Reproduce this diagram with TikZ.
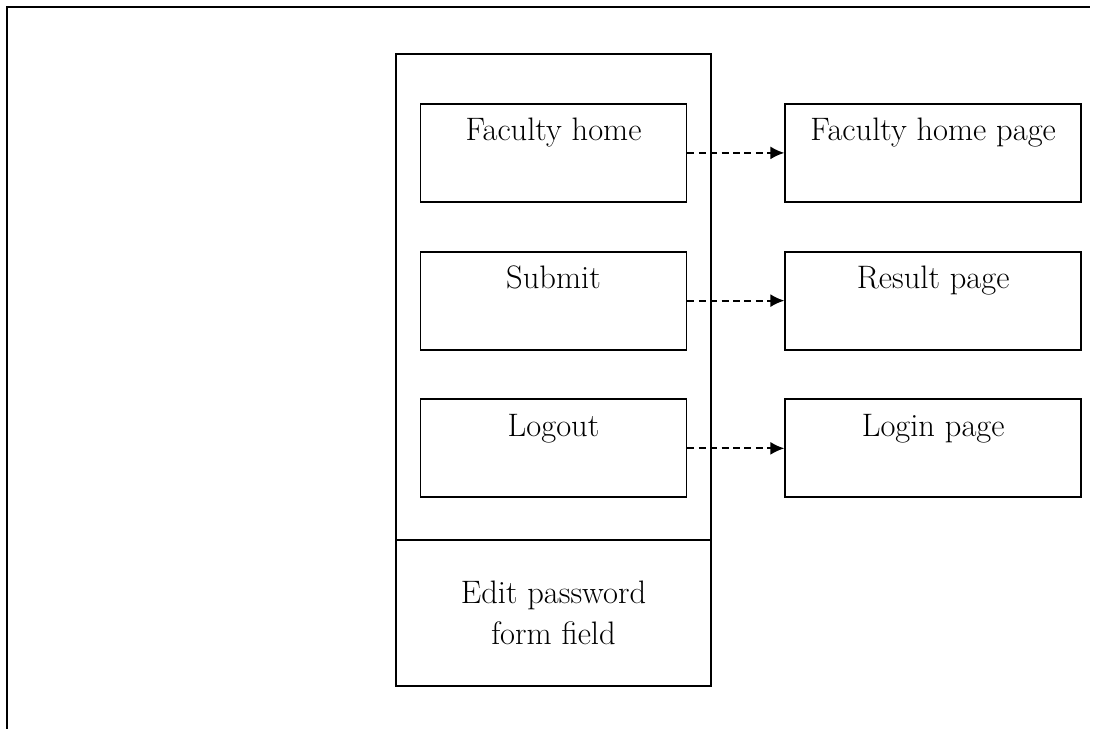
\documentclass[tikz,border=0pt]{standalone}
\usetikzlibrary{arrows.meta,positioning}
\begin{document}
\begin{tikzpicture}[x=0.02cm,y=-0.02cm,line width=1pt,
        panel/.style={draw,minimum width=6.3cm,inner sep=0pt,outer sep=0pt},
        linkbox/.style={draw,inner sep=0pt,minimum width=5.32cm,text height=0.74cm,text depth=1.22cm,font=\fontsize{18.5}{23}\selectfont},
        pagebox/.style={linkbox,minimum width=5.92cm},
        link/.style={dash pattern=on 4pt off 2.5pt,-{Latex[length=0.28cm,width=0.26cm]}}]
            \useasboundingbox (0,0) rectangle (1096,729);
            \draw (7,729)--(7,7)--(1090,7);
            \node[panel,minimum height=9.72cm] (menu) at (553.5,297) {};
            \node[panel,minimum height=2.92cm,below=0pt of menu,align=center,font=\fontsize{18.5}{23}\selectfont] (editpw) {Edit password\\form field};
            \node[linkbox,below=0.98cm of menu.north] (facultyhome) {Faculty home};
            \node[linkbox,below=0.96cm of facultyhome] (submit) {Submit};
            \node[linkbox,below=0.96cm of submit] (logout) {Logout};
            \node[pagebox,right=1.94cm of facultyhome] (facultypage) {Faculty home page};
            \node[pagebox,right=1.94cm of submit] (resultpage) {Result page};
            \node[pagebox,right=1.94cm of logout] (loginpage) {Login page};
            \draw[link] (facultyhome)--(facultypage);
            \draw[link] (submit)--(resultpage);
            \draw[link] (logout)--(loginpage);
        \end{tikzpicture}
\end{document}
